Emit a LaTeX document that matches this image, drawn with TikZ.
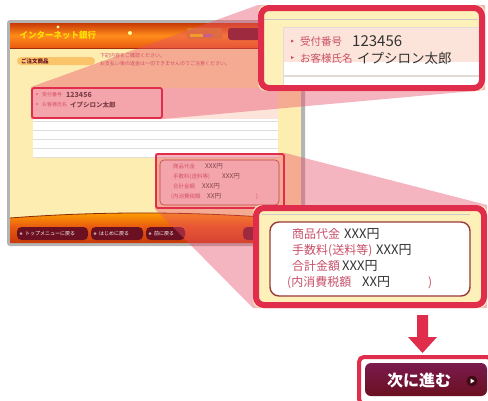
\documentclass[tikz,border=0pt]{standalone}
\usepackage{fontspec}
\setmainfont{Noto Sans CJK JP}
\definecolor{cred}{HTML}{E02D4B}
\definecolor{framegray}{HTML}{B4B4B4}
\definecolor{cream}{HTML}{FDEDB0}
\definecolor{hdrtop}{HTML}{C83A08}
\definecolor{hdrmid}{HTML}{FF8C1A}
\definecolor{hdrbot}{HTML}{E85A10}
\definecolor{labelred}{HTML}{C85068}
\definecolor{valdark}{HTML}{333333}
\definecolor{pillorange}{HTML}{F9C46A}
\definecolor{peach}{HTML}{FDE4DA}
\definecolor{maroon}{HTML}{6A1020}
\definecolor{btntop}{HTML}{7A1A4E}
\definecolor{wedgepink}{HTML}{E8506A}
\definecolor{paleyellow}{HTML}{FDF0B8}
\definecolor{rowline}{HTML}{E2DCD8}
\definecolor{boxbrown}{HTML}{9A3A3A}
\newcommand{\fsz}[1]{\fontsize{#1}{#1}\selectfont}
\tikzset{
  callout/.style={draw=cred, line width=6pt, rounded corners=8pt},
  smallbox/.style={draw=cred, line width=1.8pt, rounded corners=2pt},
  wedge/.style={fill=wedgepink, fill opacity=0.42},
  lbl/.style={text=labelred, anchor=base west, inner sep=0pt},
  val/.style={text=valdark, anchor=base west, inner sep=0pt},
  pillbtn/.style={fill=maroon, rounded corners=4.5pt},
  btntext/.style={text=white, anchor=west, inner sep=0pt, font=\fsz{5}},
}
\begin{document}
\begin{tikzpicture}[x=1pt,y=-1pt]
\useasboundingbox (0,0) rectangle (488,400);
\fill[white] (0,0) rectangle (488,400);

% ---------- screenshot window ----------
\fill[framegray, rounded corners=3pt] (7,20) rectangle (305,246);
\fill[cream] (10,48) rectangle (301,243);
\shade[top color=hdrtop, bottom color=hdrbot, middle color=hdrmid] (10,23) rectangle (301,48);
\draw[hdrtop!80!black, line width=0.8pt] (10,48) -- (301,48);
\node[text=yellow!85!orange, font=\fsz{8.5}\bfseries, inner sep=0pt] (title) at (58,35) {インターネット銀行};
\fill[yellow!40] (58,27) circle (1.6);
\fill[yellow!40] (130,33) circle (2);
\fill[orange!40!brown, rounded corners=1pt] (187,28) rectangle (222,39);
\fill[yellow!70!orange] (190,34) rectangle (212,36.5);
\fill[violet!60] (203,34) rectangle (212,36.5);
\fill[maroon, rounded corners=3pt] (228,28) rectangle (262,40);

% order pill and notice
\fill[pillorange, rounded corners=4pt] (17,57) rectangle (95,65);
\node[text=maroon, font=\fsz{5.5}\bfseries, anchor=west, inner sep=0pt] (pilltxt) at (21,61) {ご注文商品};
\node[text=labelred, font=\fsz{5}, anchor=west, inner sep=0pt] (note1) at (100,56) {下記内容をご確認ください。};
\node[text=labelred, font=\fsz{5}, anchor=west, inner sep=0pt] (note2) at (100,64) {お支払い後の返金は一切できませんのでご注意ください。};

% rows
\fill[peach] (33,88) rectangle (278,119);
\fill[white] (33,119) rectangle (278,158);
\foreach \yy in {121,130,139,148,157} \draw[rowline, line width=0.8pt] (33,\yy) -- (278,\yy);

% small box 1 content
\fill[labelred] (37,94) circle (0.8);
\fill[labelred] (37,104) circle (0.8);
\node[lbl, font=\fsz{5}] (s1l1) at (42,96.5) {受付番号};
\node[val, font=\fsz{7}\bfseries] (s1v1) at (66,97) {123456};
\node[lbl, font=\fsz{5}] (s1l2) at (42,106.5) {お客様氏名};
\node[val, font=\fsz{6.5}\bfseries] (s1v2) at (70,107) {イプシロン太郎};

% small box 2 content
\fill[peach, draw=boxbrown, line width=0.6pt, rounded corners=4pt] (160,160) rectangle (279,205);
\node[lbl, font=\fsz{5.5}] (s2l1) at (173,168) {商品代金};
\node[val, font=\fsz{6.5}] (s2v1) at (205,168) {XXX円};
\node[lbl, font=\fsz{5.5}] (s2l2) at (173,178.5) {手数料(送料等)};
\node[val, font=\fsz{6.5}] (s2v2) at (222,178.5) {XXX円};
\node[lbl, font=\fsz{5.5}] (s2l3) at (173,188.5) {合計金額};
\node[val, font=\fsz{6.5}] (s2v3) at (202,188.5) {XXX円};
\node[lbl, font=\fsz{5.5}] (s2l4) at (171,198.5) {(内消費税額};
\node[val, font=\fsz{6.5}] (s2v4) at (207,198.5) {XX円};
\node[lbl, font=\fsz{5.5}] (s2p) at (256,198.5) {)};

% bottom bar
\shade[top color=orange!70!yellow, bottom color=hdrtop, middle color=hdrbot]
  (10,218) .. controls (100,211) and (200,211) .. (301,220) -- (301,243) -- (10,243) -- cycle;
\draw[hdrtop!70!black, line width=0.8pt] (10,218) .. controls (100,211) and (200,211) .. (301,220);
\fill[pillbtn] (17,227) rectangle (88,240);
\fill[pillbtn] (91,227) rectangle (143,240);
\fill[pillbtn] (146,227) rectangle (185,240);
\fill[pillbtn] (243,227) rectangle (262,240);
\foreach \xx in {21,95,150} \fill[white!60!maroon] (\xx,233.5) circle (1.5);
\node[btntext] (b1) at (25,233.5) {トップメニューに戻る};
\node[btntext] (b2) at (99,233.5) {はじめに戻る};
\node[btntext] (b3) at (154,233.5) {前に戻る};

% ---------- wedges ----------
\fill[wedge] (31,87) -- (258,5) -- (485,5) -- (485,90) -- (163,119) -- (31,119) -- cycle;
\fill[wedge] (155,153) -- (285,153) -- (487,205) -- (487,308) -- (253,308) -- (155,209) -- cycle;

% small box borders
\draw[smallbox] (32,88) rectangle (162,118);
\draw[smallbox] (156,154) rectangle (284,208);

% ---------- callout 1 ----------
\fill[paleyellow, rounded corners=8pt] (258,5) rectangle (485,91);
\draw[rowline!80!gray, line width=0.6pt] (264,19) -- (478,19);
\fill[white] (283,27) rectangle (480,86);
\fill[peach] (283,27) rectangle (480,62);
\draw[rowline, line width=0.8pt] (283,27) -- (480,27);
\draw[rowline, line width=1.2pt] (283,76) -- (480,76);
\draw[rowline, line width=0.8pt] (283,27) -- (283,86);
\fill[labelred] (291,39.5) -- (294,41) -- (291,42.5) -- cycle;
\fill[labelred] (291,56) -- (294,57.5) -- (291,59) -- cycle;
\node[lbl, font=\fsz{10.5}] (c1l1) at (300,45) {受付番号};
\node[val, font=\fsz{15}] (c1v1) at (352,46) {123456};
\node[lbl, font=\fsz{10.5}] (c1l2) at (300,62) {お客様氏名};
\node[val, font=\fsz{13.5}] (c1v2) at (357,63) {イプシロン太郎};
\draw[callout] (261,8) rectangle (482,88);

% ---------- callout 2 ----------
\fill[paleyellow, rounded corners=8pt] (253,205) rectangle (487,308);
\draw[rowline!80!gray, line width=1pt] (262,214) -- (470,214);
\fill[white, draw=boxbrown, line width=1.4pt, rounded corners=9pt] (270,222) rectangle (470,296);
\node[lbl, font=\fsz{12}] (c2l1) at (292,238) {商品代金};
\node[val, font=\fsz{13}] (c2v1) at (344,238.5) {XXX円};
\node[lbl, font=\fsz{12}] (c2l2) at (292,254) {手数料(送料等)};
\node[val, font=\fsz{13}] (c2v2) at (376,254.5) {XXX円};
\node[lbl, font=\fsz{12}] (c2l3) at (292,270) {合計金額};
\node[val, font=\fsz{13}] (c2v3) at (342,270.5) {XXX円};
\node[lbl, font=\fsz{12}] (c2l4) at (287,286) {(内消費税額};
\node[val, font=\fsz{13}] (c2v4) at (362,286.5) {XX円};
\node[lbl, font=\fsz{12}] (c2p) at (428,286) {)};
\draw[callout] (256,208) rectangle (484,305);

% ---------- arrow ----------
\fill[cred] (417,315) -- (428,315) -- (428,337) -- (437,337) -- (422.5,353) -- (408,337) -- (417,337) -- cycle;

% ---------- next button ----------
\draw[cred, line width=4pt, rounded corners=5pt] (359,357) rectangle (492,404);
\shade[top color=btntop, bottom color=maroon, rounded corners=6pt] (365,363) rectangle (487,396);
\node[text=white, font=\fsz{16}\bfseries, inner sep=0pt] (next) at (419,380) {次に進む};
\fill[maroon!60!black] (472,381) circle (5.5);
\fill[white] (470.5,378.5) -- (474.5,381) -- (470.5,383.5) -- cycle;
\end{tikzpicture}
\end{document}
